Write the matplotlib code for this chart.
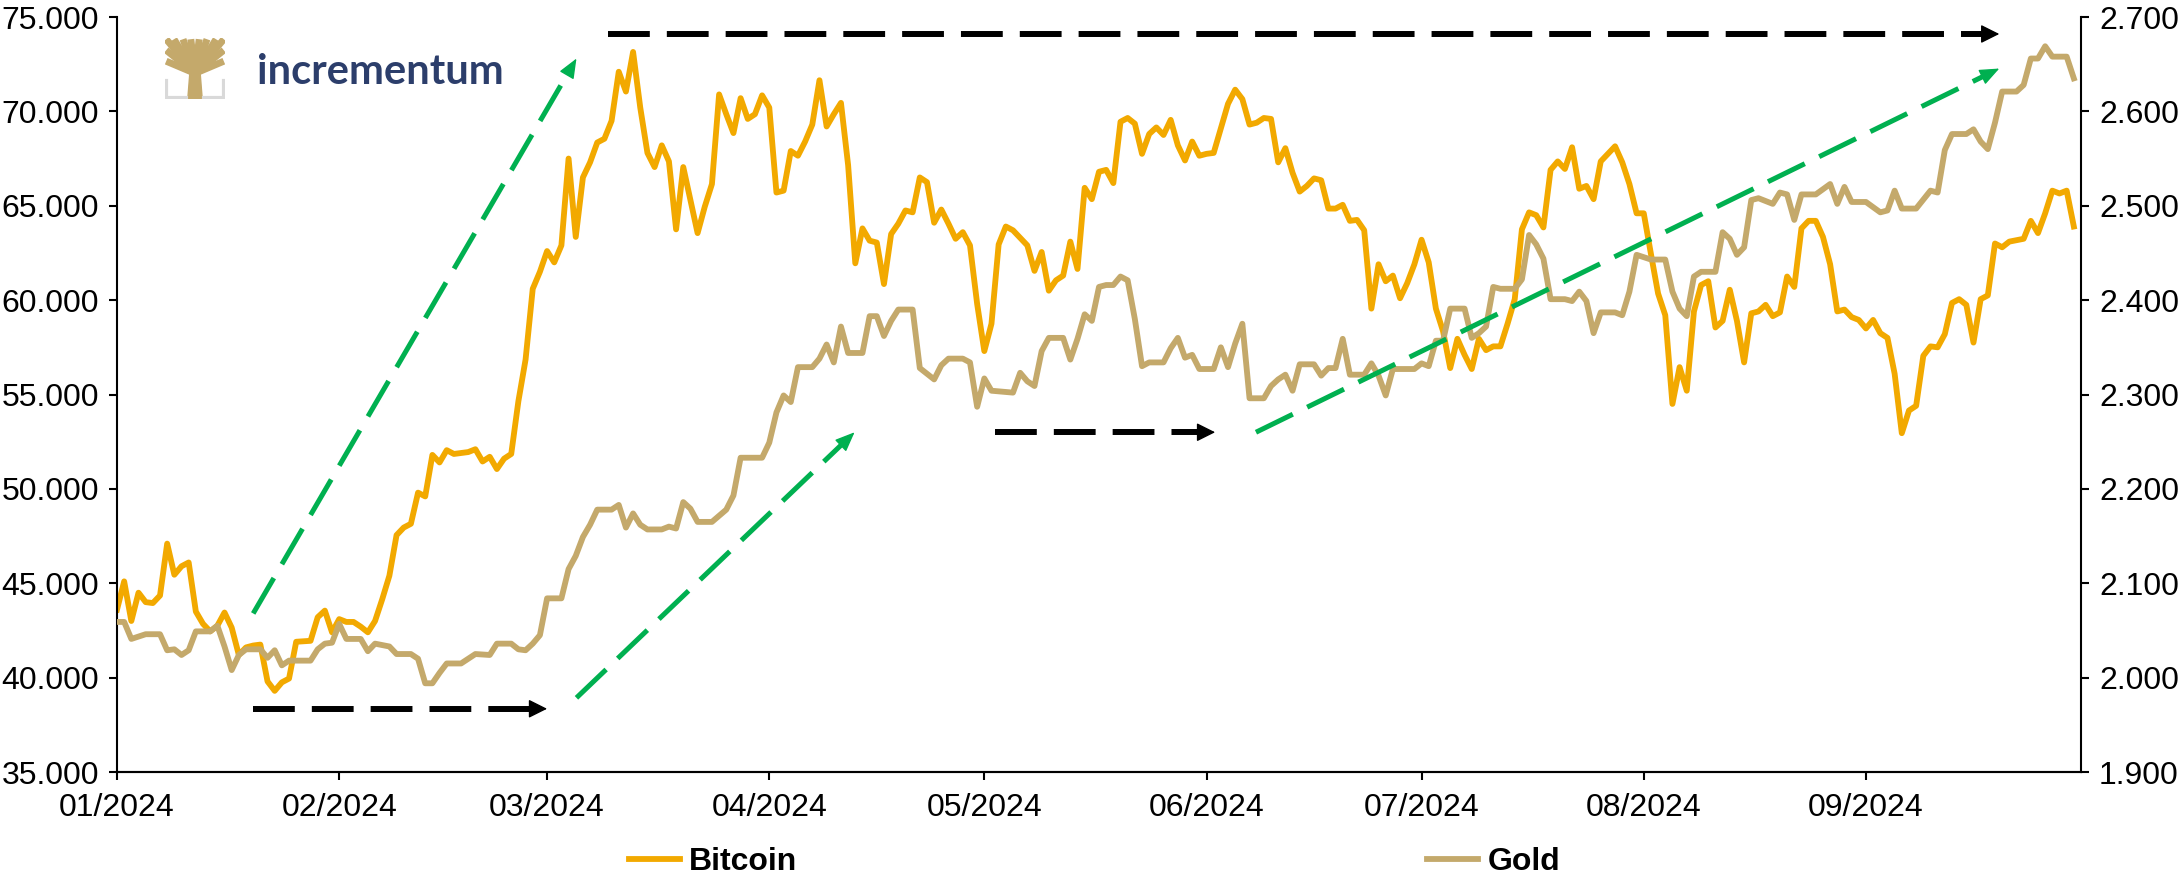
import numpy as np
import pandas as pd
import matplotlib
matplotlib.use("Agg")
import matplotlib.pyplot as plt
import matplotlib.dates as mdates
from matplotlib.ticker import FuncFormatter

plt.rcParams['font.family'] = ['Liberation Sans', 'DejaVu Sans']

start = pd.Timestamp('2024-01-01')

# days after 01/01/2024
btc_days = [0, 1, 2, 3, 4, 5, 6, 7, 8, 9, 10, 11, 12, 13, 14, 15, 16, 17, 18, 19,
            20, 21, 22, 23, 24, 25, 27, 28, 29, 30, 31, 32, 33, 34, 35, 36, 37, 38, 39, 40,
            41, 42, 43, 44, 45, 46, 47, 49, 50, 51, 52, 53, 54, 55, 56, 57, 58, 59, 60, 61,
            62, 63, 64, 65, 66, 67, 68, 69, 70, 71, 72, 73, 74, 75, 76, 77, 78, 79, 80, 81,
            82, 83, 84, 85, 86, 87, 88, 89, 90, 91, 92, 93, 94, 95, 96, 97, 98, 99, 100, 101,
            102, 103, 104, 105, 106, 107, 108, 109, 110, 111, 112, 113, 114, 115, 116, 117, 118, 119, 120, 121,
            122, 123, 124, 125, 126, 127, 128, 129, 130, 131, 132, 133, 134, 135, 136, 137, 138, 139, 140, 141,
            142, 143, 144, 145, 146, 147, 148, 149, 150, 151, 152, 153, 155, 156, 157, 158, 159, 160, 161, 162,
            163, 164, 165, 166, 167, 168, 169, 170, 171, 172, 173, 174, 175, 176, 177, 178, 179, 180, 181, 182,
            183, 184, 185, 186, 187, 188, 189, 190, 191, 192, 193, 194, 195, 196, 197, 198, 199, 200, 201, 202,
            203, 204, 205, 206, 207, 208, 209, 210, 211, 212, 213, 214, 215, 216, 217, 218, 219, 220, 221, 222,
            223, 224, 225, 226, 227, 228, 229, 230, 231, 232, 233, 234, 235, 236, 237, 238, 239, 240, 241, 242,
            243, 244, 245, 246, 247, 248, 249, 250, 251, 252, 253, 254, 255, 256, 257, 258, 259, 260, 261, 262,
            263, 264, 266, 267, 268, 269, 270, 271, 272, 273]
btc_values = [43600, 45100, 43000, 44500, 44000, 43950, 44350, 47100, 45450, 45900, 46100, 43500, 42850, 42450, 42750, 43450, 42650, 41200, 41600, 41700,
              41750, 39800, 39300, 39750, 39950, 41900, 41950, 43200, 43550, 42400, 43100, 42950, 42950, 42700, 42400, 43000, 44150, 45400, 47550, 47950,
              48150, 49800, 49600, 51800, 51400, 52050, 51850, 51950, 52100, 51450, 51700, 51050, 51600, 51850, 54650, 56850, 60600, 61500, 62600, 62000,
              62900, 67500, 63350, 66500, 67300, 68350, 68550, 69500, 72100, 71050, 73150, 70200, 67800, 67050, 68200, 67350, 63750, 67050, 65300, 63550,
              64950, 66150, 70900, 69850, 68850, 70700, 69600, 69850, 70850, 70200, 65700, 65800, 67900, 67650, 68400, 69300, 71650, 69200, 69850, 70450,
              67150, 61950, 63800, 63150, 63050, 60850, 63500, 64050, 64750, 64650, 66500, 66250, 64100, 64800, 64050, 63250, 63600, 62900, 59800, 57300,
              58750, 62950, 63900, 63700, 63300, 62900, 61550, 62550, 60500, 61050, 61300, 63100, 61650, 65950, 65350, 66800, 66900, 66200, 69450, 69650,
              69350, 67750, 68800, 69150, 68750, 69550, 68200, 67400, 68400, 67650, 67750, 67800, 70400, 71150, 70650, 69300, 69400, 69650, 69600, 67300,
              68050, 66750, 65750, 66050, 66450, 66350, 64850, 64850, 65050, 64200, 64250, 63700, 59550, 61900, 61000, 61300, 60100, 60900, 61900, 63200,
              62000, 59550, 58350, 56400, 57950, 57100, 56350, 57950, 57350, 57550, 57550, 58750, 60050, 63750, 64650, 64500, 63850, 66900, 67350, 66950,
              68100, 65900, 66050, 65350, 67350, 67750, 68150, 67300, 66150, 64600, 64600, 62450, 60350, 59200, 54500, 56450, 55200, 59400, 60800, 61000,
              58550, 58900, 60550, 58900, 56700, 59300, 59400, 59750, 59150, 59350, 61250, 60700, 63800, 64200, 64200, 63350, 61900, 59400, 59500, 59100,
              58950, 58500, 58950, 58250, 58000, 56100, 52950, 54150, 54400, 57050, 57550, 57500, 58200, 59850, 60050, 59750, 57750, 60050, 60250, 63000,
              62800, 63100, 63250, 64200, 63550, 64600, 65800, 65650, 65800, 63900]

gold_days = [0, 1, 2, 4, 6, 7, 8, 9, 10, 11, 13, 14, 15, 16, 17, 18, 20, 21, 22, 23,
             24, 27, 28, 29, 30, 31, 32, 34, 35, 36, 38, 39, 41, 42, 43, 44, 45, 46, 48, 50,
             52, 53, 55, 56, 57, 58, 59, 60, 62, 63, 64, 65, 66, 67, 69, 70, 71, 72, 73, 74,
             76, 77, 78, 79, 80, 81, 83, 85, 86, 87, 90, 91, 92, 93, 94, 95, 97, 98, 99, 100,
             101, 102, 104, 105, 106, 107, 108, 109, 111, 112, 113, 114, 115, 116, 118, 119, 120, 121, 122, 125,
             126, 127, 128, 129, 130, 132, 133, 134, 135, 136, 137, 138, 139, 140, 141, 142, 143, 144, 146, 147,
             148, 149, 150, 151, 153, 154, 155, 156, 157, 158, 160, 161, 162, 163, 164, 165, 167, 168, 169, 170,
             171, 172, 174, 175, 176, 177, 178, 181, 182, 183, 184, 185, 186, 188, 189, 190, 191, 192, 193, 195,
             196, 197, 198, 199, 200, 202, 203, 204, 205, 206, 207, 209, 210, 211, 212, 214, 216, 217, 218, 219,
             220, 221, 223, 224, 225, 226, 227, 228, 229, 231, 232, 233, 234, 235, 237, 239, 240, 241, 242, 244,
             246, 247, 248, 249, 251, 253, 254, 255, 256, 258, 259, 260, 261, 262, 263, 265, 266, 267, 268, 269,
             270, 272, 273]
gold_values = [2059, 2059, 2041, 2046, 2046, 2029, 2030, 2024, 2029, 2049, 2049, 2055, 2033, 2008, 2024, 2030, 2030, 2021, 2029, 2013,
               2018, 2018, 2030, 2036, 2037, 2057, 2041, 2041, 2028, 2036, 2033, 2025, 2025, 2020, 1994, 1994, 2005, 2015, 2015, 2025,
               2024, 2036, 2036, 2030, 2029, 2036, 2045, 2084, 2084, 2115, 2129, 2149, 2162, 2178, 2178, 2183, 2159, 2174, 2162, 2157,
               2157, 2160, 2158, 2186, 2179, 2165, 2165, 2178, 2193, 2233, 2233, 2249, 2281, 2299, 2292, 2329, 2329, 2338, 2353, 2334,
               2372, 2344, 2344, 2383, 2383, 2362, 2378, 2390, 2390, 2328, 2322, 2316, 2331, 2338, 2338, 2334, 2287, 2317, 2304, 2302,
               2323, 2314, 2309, 2346, 2360, 2360, 2337, 2359, 2385, 2378, 2414, 2416, 2416, 2425, 2421, 2380, 2330, 2334, 2334, 2349,
               2360, 2339, 2342, 2327, 2327, 2350, 2329, 2354, 2375, 2296, 2296, 2309, 2316, 2321, 2304, 2332, 2332, 2320, 2328, 2328,
               2359, 2321, 2321, 2333, 2320, 2299, 2327, 2327, 2333, 2330, 2357, 2357, 2391, 2391, 2360, 2365, 2372, 2414, 2412, 2412,
               2422, 2469, 2459, 2444, 2401, 2401, 2399, 2409, 2399, 2365, 2387, 2387, 2384, 2409, 2448, 2443, 2443, 2409, 2391, 2383,
               2425, 2430, 2430, 2472, 2465, 2448, 2456, 2506, 2508, 2502, 2514, 2512, 2485, 2512, 2512, 2523, 2502, 2520, 2504, 2504,
               2493, 2495, 2516, 2497, 2497, 2516, 2514, 2559, 2576, 2576, 2581, 2568, 2560, 2588, 2621, 2621, 2628, 2656, 2656, 2669,
               2658, 2658, 2635]

# annotation arrows in (day, Bitcoin level) pairs: start -> end
black_arrows = [(19, 38350, 60, 38350),
                (68.5, 74100, 262.6, 74100),
                (122.5, 53000, 153.2, 53000)]
green_arrows = [(19, 43400, 64.1, 72800),
                (64.1, 38930, 102.9, 53000),
                (158.9, 53000, 262.6, 72270)]

btc_color = '#F2A900'
gold_color = '#C4A96B'
green = '#00B050'

btc_dates = start + pd.to_timedelta(btc_days, unit='D')
gold_dates = start + pd.to_timedelta(gold_days, unit='D')

fig = plt.figure(figsize=(21.8, 8.8), dpi=100)
ax = fig.add_axes([117/2180, 1-772/880, (2081-117)/2180, (772-17)/880])
ax2 = ax.twinx()

l1, = ax.plot(btc_dates, btc_values, color=btc_color, lw=4.2, solid_joinstyle='round')
l2, = ax2.plot(gold_dates, gold_values, color=gold_color, lw=4.2, solid_joinstyle='round')

ax.set_xlim(start, pd.Timestamp('2024-10-01'))
ax.set_ylim(35000, 75000)
ax2.set_ylim(1900, 2700)
ax.set_yticks(np.arange(35000, 75001, 5000))
ax2.set_yticks(np.arange(1900, 2701, 100))
dot_fmt = FuncFormatter(lambda v, p: f"{v:,.0f}".replace(',', '.'))
ax.yaxis.set_major_formatter(dot_fmt)
ax2.yaxis.set_major_formatter(dot_fmt)
ax.set_xticks(pd.date_range('2024-01-01', '2024-09-01', freq='MS'))
ax.xaxis.set_major_formatter(mdates.DateFormatter('%m/%Y'))

for a in (ax, ax2):
    a.spines['top'].set_visible(False)
    for s in a.spines.values():
        s.set_linewidth(1.5)
    a.tick_params(axis='both', direction='out', length=6, width=1.5, labelsize=23)
    a.tick_params(axis='y', pad=7)
    a.tick_params(axis='x', pad=9)
ax2.spines['left'].set_visible(False)
ax.spines['right'].set_visible(False)


def to_px(d, v):
    return ax.transData.transform((mdates.date2num(start + pd.Timedelta(days=d)), v))


def dashed_arrow(arrow, color, lw, dashes, head_len, head_w):
    d0, v0, d1, v1 = arrow
    p0 = to_px(d0, v0)
    p1 = to_px(d1, v1)
    u = (p1 - p0) / np.hypot(*(p1 - p0))
    base = p1 - u * head_len
    inv = ax.transData.inverted()
    q0, qb, q1 = inv.transform(p0), inv.transform(base), inv.transform(p1)
    ax2.plot([q0[0], qb[0]], [q0[1], qb[1]], transform=ax.transData, color=color, lw=lw,
             linestyle=(0, dashes), dash_capstyle='butt', zorder=5)
    ax2.annotate('', xy=q1, xytext=qb, xycoords=ax.transData, textcoords=ax.transData,
                 arrowprops=dict(arrowstyle=f'-|>,head_length={head_len*0.72},head_width={head_w*0.72}',
                                 color=color, lw=1, shrinkA=0, shrinkB=0, mutation_scale=1),
                 zorder=6)


for arr in black_arrows:
    dashed_arrow(arr, 'black', 4.3, (7.0, 2.85), 16, 8)
for arr in green_arrows:
    dashed_arrow(arr, green, 3.6, (8.2, 3.2), 17, 7)

ax2.set_ylim(1900, 2700)

# logo
lg = fig.add_axes([165/2180, 1-99/880, 60/2180, 61/880])
lg.set_xlim(0, 1)
lg.set_ylim(0, 1)
lg.axis('off')
lg.plot([0.02, 0.02, 0.35], [0.3, 0.02, 0.02], color='#D9D9D9', lw=3)
lg.plot([0.65, 0.98, 0.98], [0.02, 0.02, 0.3], color='#D9D9D9', lw=3)
lg.fill([0.38, 0.62, 0.58, 0.42], [0.0, 0.0, 0.5, 0.5], color=gold_color)
for tx, ty in [(0.02, 0.98), (0.15, 0.98), (0.3, 0.98), (0.43, 0.98), (0.57, 0.98), (0.7, 0.98),
               (0.85, 0.98), (0.98, 0.98), (0.02, 0.8), (0.98, 0.8), (0.02, 0.62), (0.98, 0.62)]:
    lg.plot([0.5, tx], [0.42, ty], color=gold_color, lw=5, solid_capstyle='butt')
fig.text(257/2180, 1-72/880, 'incrementum', fontsize=30, fontweight='bold',
         family=['Lato', 'DejaVu Sans'], color='#2C3E6B', va='center', ha='left')

fig.legend(handles=[l1, l2], labels=['Bitcoin', 'Gold'], loc='center', bbox_to_anchor=(0.502, 0.02),
           ncol=2, frameon=False, prop={'weight': 'bold', 'size': 23}, handlelength=1.6,
           handletextpad=0.3, columnspacing=19.7)

fig.savefig('out.png', dpi=100)
